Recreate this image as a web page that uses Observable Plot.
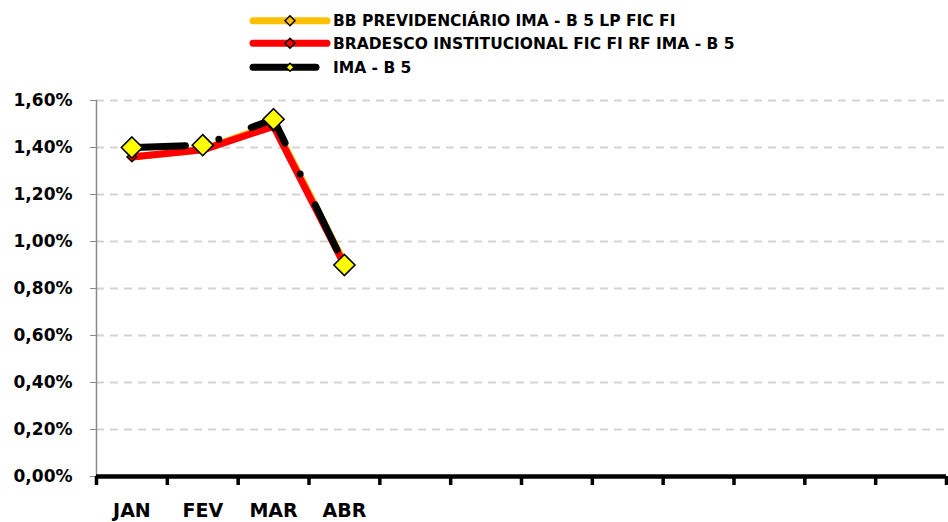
<!DOCTYPE html>
<html>
<head>
<meta charset="utf-8">
<script src="https://cdn.jsdelivr.net/npm/d3@7"></script>
<script src="https://cdn.jsdelivr.net/npm/@observablehq/plot@0.6"></script>
<style>
  html, body { margin: 0; padding: 0; background: #fff; }
  #legend, #chart { display: block; }
  svg { display: block; }
</style>
</head>
<body>
<div id="legend"></div>
<div id="chart"></div>
<script>
// ---- data ----
const months = ["JAN", "FEV", "MAR", "ABR"];
const slots = 12; // Jan..Dez category slots on the axis
const seriesNames = [
  "BB PREVIDENCIÁRIO IMA - B 5 LP FIC FI",
  "BRADESCO INSTITUCIONAL FIC FI RF IMA - B 5",
  "IMA - B 5"
];
const bbValues = [0.0136, 0.0139, 0.0150, 0.0091];
const bradescoValues = [0.0136, 0.0139, 0.0149, 0.0090];
const imaValues = [0.0140, 0.0141, 0.0152, 0.0090];
const yTicks = [0, 0.002, 0.004, 0.006, 0.008, 0.010, 0.012, 0.014, 0.016];

const colors = ["#FFC000", "#FF0000", "#000000"];
const markerFill = ["#FFC000", "#FF0000", "#FFFF00"];

const allValues = [bbValues, bradescoValues, imaValues];
const rows = allValues.map((vals, s) =>
  vals.map((v, i) => ({series: seriesNames[s], month: months[i], x: i + 0.5, value: v}))
);
const boundaries = d3.range(0, slots + 1);
const fmt = v => d3.format(".2%")(v).replace(".", ",");

const FONT = "'DejaVu Sans', sans-serif";

// ---- legend ----
const lg = d3.select("#legend").append("svg")
  .attr("width", 948).attr("height", 80)
  .style("font-family", FONT);
const legendY = [20.7, 43.3, 67.3];
const legendX2 = [327, 327, 316];
seriesNames.forEach((name, s) => {
  const g = lg.append("g");
  g.append("line")
    .attr("x1", 253).attr("x2", legendX2[s])
    .attr("y1", legendY[s]).attr("y2", legendY[s])
    .attr("stroke", colors[s]).attr("stroke-width", 7)
    .attr("stroke-linecap", "round");
  const r = s === 2 ? 4 : 5;
  g.append("path")
    .attr("d", `M290,${legendY[s] - r}L${290 + r},${legendY[s]}L290,${legendY[s] + r}L${290 - r},${legendY[s]}Z`)
    .attr("fill", markerFill[s]).attr("stroke", "#000").attr("stroke-width", 1.5);
  g.append("text")
    .attr("x", 333).attr("y", legendY[s] + 5.3)
    .attr("font-size", 15.5).attr("font-weight", "bold")
    .attr("fill", "#000")
    .text(name);
});

// ---- chart ----
const lineMarks = [];
rows.forEach((data, s) => {
  const isIma = s === 2;
  lineMarks.push(Plot.line(data, {
    x: "x", y: "value",
    stroke: colors[s],
    strokeWidth: isIma ? 7 : 7,
    strokeLinecap: "round",
    strokeLinejoin: "round",
    strokeDasharray: isIma ? "50 34.5 0 34.5" : null,
    strokeDashoffset: isIma ? -3.5 : null
  }));
  lineMarks.push(Plot.dot(data, {
    x: "x", y: "value",
    symbol: "diamond2",
    r: isIma ? 9.5 : 4.3,
    fill: markerFill[s],
    stroke: "#000",
    strokeWidth: isIma ? 1.6 : 1.3
  }));
});

const chart = Plot.plot({
  width: 948,
  height: 442,
  marginTop: 20,
  marginBottom: 46,
  marginLeft: 96,
  marginRight: 2,
  style: {fontFamily: FONT, background: "#fff", color: "#000"},
  x: {domain: [0, slots], axis: null, label: null},
  y: {domain: [0, 0.016], axis: null, label: null},
  marks: [
    Plot.gridY(yTicks.filter(d => d > 0), {
      stroke: "#d4d4d4", strokeOpacity: 1, strokeWidth: 2, strokeDasharray: "8 6"
    }),
    Plot.ruleX([0], {y1: 0, y2: 0.016, stroke: "#8a8a8a", strokeWidth: 1.5}),
    Plot.axisY({
      ticks: yTicks, tickSize: 6, stroke: "#8a8a8a", tickFormat: () => "", label: null
    }),
    Plot.axisY({
      ticks: yTicks, tickSize: 0, tickPadding: 24, tickFormat: fmt, label: null,
      fontSize: 17, fontWeight: "bold", fill: "#000"
    }),
    Plot.axisX({
      ticks: boundaries, tickSize: 9, stroke: "#000", strokeWidth: 3.5,
      tickFormat: () => "", anchor: "bottom", label: null
    }),
    Plot.ruleY([0], {stroke: "#000", strokeWidth: 4.5}),
    Plot.text(months, {
      x: (d, i) => i + 0.5, y: () => 0, text: d => d,
      dy: 34, fontSize: 19, fontWeight: "bold", fill: "#000"
    }),
    ...lineMarks
  ]
});
document.getElementById("chart").appendChild(chart);
</script>
</body>
</html>
